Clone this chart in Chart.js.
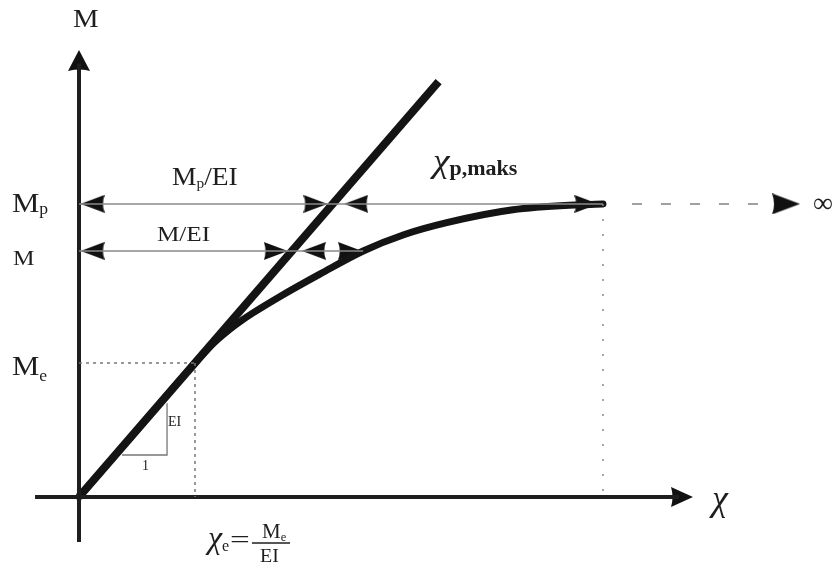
<!DOCTYPE html>
<html>
<head>
<meta charset="utf-8">
<script src="https://cdn.jsdelivr.net/npm/chart.js@4/dist/chart.umd.min.js"></script>
<style>
  html, body { margin: 0; padding: 0; background: #fff; }
  #wrap { width: 833px; height: 574px; }
</style>
</head>
<body>
<div id="wrap"><canvas id="c" width="833" height="574"></canvas></div>
<script>
// Moment–curvature diagram (units: χ in χe, M in Me, EI = 1)
const EI = 1;
const chiE = 1;          // χe = Me / EI
const mE = 1;            // Me
const mLevel = 1.836;    // M
const mP = 2.187;        // Mp
const chiMax = 4.517;    // χp,maks
const chiAtM = 2.45;     // curvature on the curve at M

// elastic branch M = EI·χ
const elasticChi = [0, 3.1];

// non-linear branch
const curveChi = [0, 0.5, 1.0, 1.1, 1.2, 1.3, 1.4, 1.5, 1.73, 2.08, 2.45, 2.8, 3.17, 3.74, 4.32, 4.517];
const curveM   = [0, 0.5, 1.0, 1.095, 1.179, 1.252, 1.316, 1.374, 1.495, 1.665, 1.836, 1.957, 2.047, 2.143, 2.181, 2.187];

// axis extents
const xAxisChi = [-0.379, 5.293];
const yAxisM   = [-0.336, 3.336];
const infinityChi = 6.216;

const pts = (xs, ys) => xs.map((x, i) => ({ x, y: ys[i] }));
const seg = (x0, y0, x1, y1) => [{ x: x0, y: y0 }, { x: x1, y: y1 }];

// arrowhead images: tip sits at the centre of the canvas
function makeHead(len, wid) {
  const c = document.createElement('canvas');
  c.width = len * 2; c.height = wid;
  const g = c.getContext('2d');
  g.fillStyle = '#111';
  g.beginPath();
  g.moveTo(len, wid / 2);
  g.lineTo(0, 0);
  g.quadraticCurveTo(len * 0.14, wid / 2, 0, wid);
  g.closePath();
  g.fill();
  return c;
}
const heads = {
  axisY: makeHead(21, 22),
  axisX: makeHead(22, 20),
  dim: makeHead(24, 18),
  inf: makeHead(28, 21)
};
const ROT = { right: 0, left: 180, up: -90 };

const arrowTips = [
  { x: 0, y: yAxisM[1], dir: 'up', kind: 'axisY' },
  { x: xAxisChi[1], y: 0, dir: 'right', kind: 'axisX' },
  { x: 0.015, y: mP, dir: 'left', kind: 'dim' },
  { x: mP / EI - 0.045, y: mP, dir: 'right', kind: 'dim' },
  { x: mP / EI + 0.1, y: mP, dir: 'left', kind: 'dim' },
  { x: chiMax - 0.04, y: mP, dir: 'right', kind: 'dim' },
  { x: 0.015, y: mLevel, dir: 'left', kind: 'dim' },
  { x: mLevel / EI - 0.036, y: mLevel, dir: 'right', kind: 'dim' },
  { x: mLevel / EI + 0.086, y: mLevel, dir: 'left', kind: 'dim' },
  { x: chiAtM - 0.01, y: mLevel, dir: 'right', kind: 'dim' },
  { x: infinityChi, y: mP, dir: 'right', kind: 'inf' }
];

const SERIF = '"Liberation Serif", "DejaVu Serif", serif';
const INK = '#1e1e1e';

// text: anchor (left, baseline) in data units, segments laid out left to right
const labels = [
  { x: -0.052, y: 3.507, sx: 1.15, segs: [{ t: 'M', s: 25 }] },
  { x: -0.578, y: 2.127, sx: 1.1, segs: [{ t: 'M', s: 28 }, { t: 'p', s: 16, dy: 2 }] },
  { x: -0.569, y: 1.731, sx: 1.1, segs: [{ t: 'M', s: 22 }] },
  { x: -0.578, y: 0.910, sx: 1.1, segs: [{ t: 'M', s: 28 }, { t: 'e', s: 16, dy: 6 }] },
  { x: 0.802, y: 2.328, sx: 1.1, segs: [{ t: 'M', s: 25 }, { t: 'p', s: 14, dy: 3 }, { t: '/EI', s: 25 }] },
  { x: 0.672, y: 1.910, sx: 1.2, segs: [{ t: 'M/EI', s: 21 }] },
  { x: 3.052, y: 2.425, sx: 1.1, segs: [{ t: 'χ', s: 34, st: 'italic' }, { t: 'p,maks', s: 20, dy: 3, w: 'bold' }] },
  { x: 0.767, y: 0.530, sx: 1.0, segs: [{ t: 'EI', s: 14 }] },
  { x: 0.543, y: 0.201, sx: 1.0, segs: [{ t: '1', s: 14 }] },
  { x: 5.457, y: -0.097, sx: 1.0, segs: [{ t: 'χ', s: 36, st: 'italic' }] },
  { x: 6.328, y: 2.127, sx: 1.0, segs: [{ t: '∞', s: 28 }] },
  { x: 1.112, y: -0.381, sx: 1.0, segs: [{ t: 'χ', s: 32, st: 'italic' }, { t: 'e', s: 16, dy: 3 }] },
  { x: 1.302, y: -0.381, sx: 1.35, segs: [{ t: '=', s: 26 }] },
  { x: 1.578, y: -0.306, sx: 1.05, segs: [{ t: 'M', s: 20 }, { t: 'e', s: 12, dy: 3 }] },
  { x: 1.561, y: -0.485, sx: 1.05, segs: [{ t: 'EI', s: 19 }] }
];
const fractionBar = { x0: 1.491, x1: 1.819, y: -0.343 };

const textPlugin = {
  id: 'diagramText',
  afterDatasetsDraw(chart) {
    const { ctx, scales: { x, y } } = chart;
    ctx.save();
    ctx.fillStyle = INK;
    ctx.textBaseline = 'alphabetic';
    labels.forEach(l => {
      const px = x.getPixelForValue(l.x);
      const py = y.getPixelForValue(l.y);
      ctx.save();
      ctx.translate(px, py);
      ctx.scale(l.sx, 1);
      let cx = 0;
      l.segs.forEach(sg => {
        ctx.font = `${sg.st || 'normal'} ${sg.w || 'normal'} ${sg.s}px ${SERIF}`;
        ctx.fillText(sg.t, cx, sg.dy || 0);
        cx += ctx.measureText(sg.t).width;
      });
      ctx.restore();
    });
    ctx.strokeStyle = INK;
    ctx.lineWidth = 1.5;
    ctx.beginPath();
    const by = y.getPixelForValue(fractionBar.y);
    ctx.moveTo(x.getPixelForValue(fractionBar.x0), by);
    ctx.lineTo(x.getPixelForValue(fractionBar.x1), by);
    ctx.stroke();
    ctx.restore();
  }
};

const lineDs = (data, opts) => Object.assign({
  data, showLine: true, pointRadius: 0, borderColor: INK, borderWidth: 1.5, fill: false
}, opts);

new Chart(document.getElementById('c'), {
  type: 'scatter',
  data: {
    datasets: [
      // dotted reference lines
      lineDs(seg(0, mE, chiE, mE), { borderColor: '#777', borderDash: [3, 4] }),
      lineDs(seg(chiE, mE, chiE, 0), { borderColor: '#777', borderDash: [3, 4] }),
      lineDs(seg(chiMax, mP, chiMax, 0), { borderColor: '#888', borderDash: [2, 13] }),
      // dimension lines
      lineDs(seg(0, mP, chiMax, mP), { borderColor: '#8a8a8a', borderWidth: 1.6 }),
      lineDs(seg(0, mLevel, chiAtM, mLevel), { borderColor: '#8a8a8a', borderWidth: 1.6 }),
      lineDs(seg(4.767, mP, 5.98, mP), { borderColor: '#a0a0a0', borderWidth: 2, borderDash: [10, 19] }),
      // slope triangle
      lineDs([{ x: 0.371, y: 0.313 }, { x: 0.759, y: 0.313 }, { x: 0.759, y: 0.70 }], { borderColor: '#777', borderWidth: 1.3 }),
      // axes
      lineDs(seg(xAxisChi[0], 0, xAxisChi[1] - 0.12, 0), { borderWidth: 4 }),
      lineDs(seg(0, yAxisM[0], 0, yAxisM[1] - 0.1), { borderWidth: 4 }),
      // elastic branch
      lineDs(pts(elasticChi, elasticChi.map(c => EI * c)), { borderWidth: 8, borderColor: '#141414' }),
      // curve
      lineDs(pts(curveChi, curveM), { borderWidth: 7, borderColor: '#141414', cubicInterpolationMode: 'monotone', borderCapStyle: 'round', borderJoinStyle: 'round' }),
      // arrowheads
      {
        data: arrowTips.map(a => ({ x: a.x, y: a.y })),
        showLine: false,
        pointRadius: 5,
        pointStyle: c => heads[arrowTips[c.dataIndex].kind],
        pointRotation: c => ROT[arrowTips[c.dataIndex].dir]
      }
    ]
  },
  options: {
    responsive: false,
    animation: false,
    events: [],
    layout: { padding: 0, autoPadding: false },
    plugins: { legend: { display: false }, tooltip: { enabled: false } },
    scales: {
      x: { type: 'linear', display: false, min: -0.681, max: 6.5 },
      y: { type: 'linear', display: false, min: -0.575, max: 3.709 }
    }
  },
  plugins: [textPlugin]
});
</script>
</body>
</html>
